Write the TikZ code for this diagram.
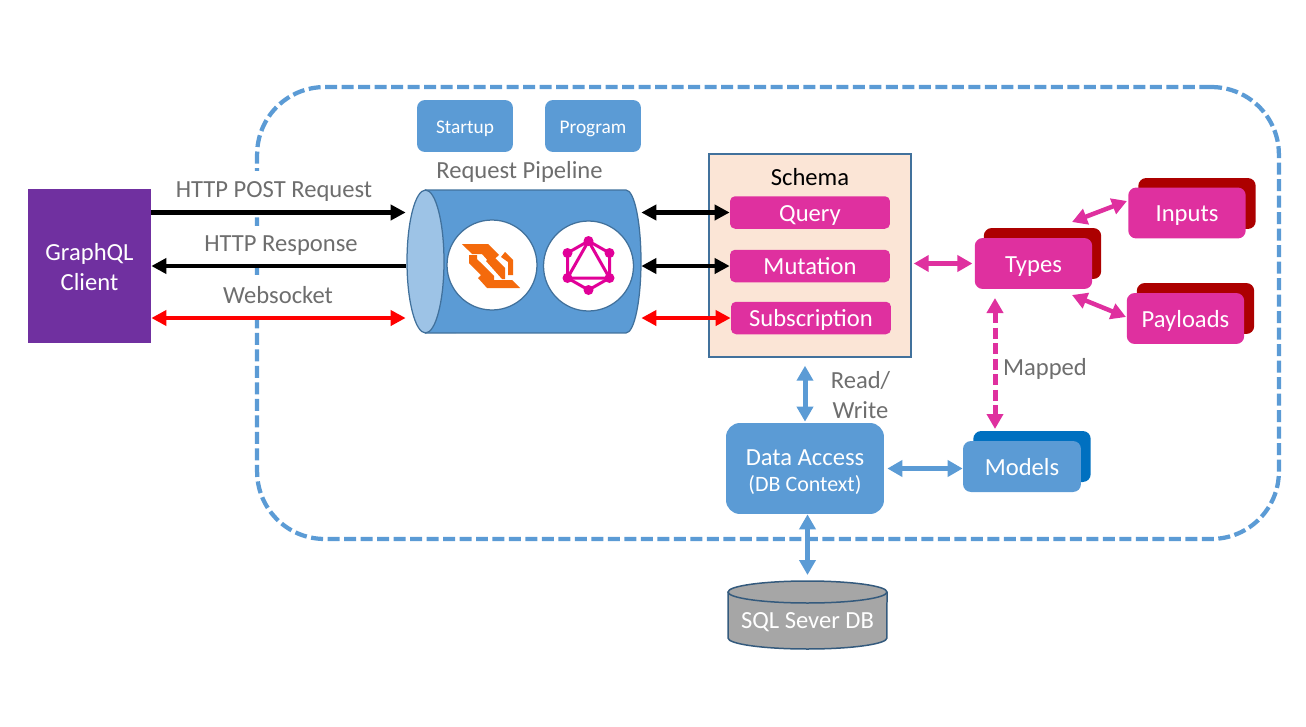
\documentclass[tikz,border=0pt]{standalone}
\usepackage{fontspec}
\setmainfont{Carlito}
\usetikzlibrary{arrows.meta,calc}
\definecolor{msblue}{HTML}{5B9BD5}
\definecolor{msedge}{HTML}{41719C}
\definecolor{deepblue}{HTML}{0070C0}
\definecolor{hotpink}{HTML}{DF309F}
\definecolor{darkred}{HTML}{AC0000}
\definecolor{peach}{HTML}{FBE5D6}
\definecolor{qlpurple}{HTML}{7030A0}
\definecolor{labelgray}{HTML}{6E6E6E}
\definecolor{wsorange}{HTML}{F46A0C}
\definecolor{qlpink}{HTML}{E10098}
\newcommand{\bigtext}{\fontsize{14}{17}\selectfont}
\newcommand{\smalltext}{\fontsize{11}{13}\selectfont}
\tikzset{
	whitetext/.style={text=white, font=\bigtext, align=center, inner sep=0},
	boxtext/.style={whitetext, text height=0.34cm, text depth=0pt},
	graylabel/.style={text=labelgray, font=\bigtext, align=center, inner sep=0},
	pathlabel/.style={graylabel, fill=white, minimum height=0.8cm, minimum width=3cm},
	bluebox/.style={whitetext, fill=msblue, rounded corners=0.16cm},
	topbox/.style={bluebox, font=\smalltext, text height=0.28cm, text depth=0pt, minimum width=1.92cm, minimum height=1.04cm},
	pinkbar/.style={boxtext, fill=hotpink, rounded corners=0.1cm, minimum width=3.2cm, minimum height=0.65cm},
	pinkbox/.style={boxtext, fill=hotpink, rounded corners=0.16cm, minimum width=2.35cm, minimum height=1.02cm},
	redback/.style={fill=darkred, rounded corners=0.16cm, minimum width=2.35cm, minimum height=1.02cm},
	blueback/.style={fill=deepblue, rounded corners=0.16cm, minimum width=2.35cm, minimum height=1.02cm},
	link/.style={line width=0.9mm, >={Triangle[length=0.3cm,width=0.3cm]}},
	blacklink/.style={link, black},
	redlink/.style={link, <->, red},
	bluelink/.style={link, <->, msblue, line width=1mm, >={Triangle[length=0.3cm,width=0.32cm]}},
	pinklink/.style={link, <->, hotpink, line width=0.9mm, >={Triangle[length=0.3cm,width=0.32cm]}},
	logobubble/.style={draw=msedge, fill=white, line width=0.25mm, circle, minimum size=1.8cm, inner sep=0},
}

\begin{document}
\begin{tikzpicture}[x=0.02cm, y=-0.02cm]
			\useasboundingbox (0, 0) rectangle (1306, 727);
			
			% service boundary
			\node[draw=msblue, line width=0.85mm, dash pattern=on 0.24cm off 0.09cm, rounded corners=1.35cm, minimum width=20.44cm, minimum height=9.04cm, inner sep=0] (boundary) at (768, 313) {};
			
			\node[fill=qlpurple, whitetext, minimum width=2.46cm, minimum height=3.08cm] (client) at (89.5, 266) {\rule{0pt}{0.38cm}GraphQL\\Client};
			
			\node[topbox] (startup) at (465, 126) {Startup};
			\node[topbox] (program) at (593, 126) {Program};
			\node[graylabel] (pipelinelabel) at (519.5, 172) {Request Pipeline};
			
			% pipeline drum
			\node[minimum width=4.7cm, minimum height=2.86cm, inner sep=0] (pipeline) at (523.5, 261.5) {};
			\draw[fill=msblue, draw=msedge, line width=0.25mm] (425.5, 190) -- (626, 190) arc[start angle=90, end angle=-90, x radius=0.3cm, y radius=1.43cm] -- (425.5, 333) -- cycle;
			\draw[fill=msblue!60, draw=msedge, line width=0.25mm] (425.5, 261.5) ellipse [x radius=0.37cm, y radius=1.43cm];
			\node[logobubble] (wslogo) at (492, 265) {};
			\node[logobubble] (qllogo) at (588.5, 266) {};
			
			% websocket mark
			\fill[wsorange] (462, 244) -- (488, 244) -- (499, 255) -- (490, 263) -- (482, 254) -- (472, 254) -- cycle;
			\fill[wsorange] (469, 255) -- (477, 255) -- (477, 259) -- (494, 276) -- (494, 280) -- (486, 280) -- (469, 263) -- cycle;
			\fill[wsorange] (486, 261) -- (492, 255) -- (505, 268) -- (505, 279) -- (502, 279) -- cycle;
			\fill[wsorange] (501, 257) -- (505, 252) -- (513, 260) -- (513, 275) -- (508, 275) -- (508, 262) -- cycle;
			\fill[wsorange] (478, 278) -- (482, 274) -- (488, 280) -- (512, 280) -- (520, 288) -- (487, 288) -- cycle;
			
			% graphql mark
			\draw[qlpink, line width=0.6mm] (588.5, 241) -- (609.5, 253) -- (609.5, 278) -- (588.5, 290) -- (567.5, 278) -- (567.5, 253) -- cycle;
			\draw[qlpink, line width=0.6mm] (588.5, 241) -- (609.5, 278) -- (567.5, 278) -- cycle;
			\foreach \dotx/\doty in {588.5/241, 609.5/253, 609.5/278, 588.5/290, 567.5/278, 567.5/253}
				\fill[qlpink] (\dotx, \doty) circle [radius=0.1cm];
			
			\node[draw=msedge, fill=peach, line width=0.3mm, minimum width=4.04cm, minimum height=4.06cm, inner sep=0] (schema) at (810, 255.5) {};
			\node[font=\bigtext, inner sep=0] (schemalabel) at (810, 177) {Schema};
			\node[pinkbar] (query) at (810, 212.5) {Query};
			\node[pinkbar] (mutation) at (810, 266) {Mutation};
			\node[pinkbar] (subscription) at (811, 318) {Subscription};
			
			\node[redback] (typesback) at (1042.5, 253.5) {};
			\node[pinkbox] (types) at (1033.5, 263.5) {Types};
			\node[redback] (inputsback) at (1197, 203.5) {};
			\node[pinkbox] (inputs) at (1187, 213) {Inputs};
			\node[redback] (payloadsback) at (1195.5, 308.5) {};
			\node[pinkbox] (payloads) at (1185.5, 318.5) {Payloads};
			\node[blueback] (modelsback) at (1032, 456.5) {};
			\node[bluebox, boxtext, minimum width=2.36cm, minimum height=1.02cm] (models) at (1022, 466.5) {Models};
			\node[bluebox, rounded corners=0.28cm, minimum width=3.16cm, minimum height=1.82cm] (dataaccess) at (805, 468.5) {\rule{0pt}{0.46cm}Data Access\\[-0.06cm]{\fontsize{12.5}{15}\selectfont (DB Context)}};
			
			% database drum
			\draw[fill=black!35, draw=msedge!80!black, line width=0.3mm] (728, 592) -- (728, 638) arc[start angle=180, end angle=360, x radius=1.59cm, y radius=0.22cm] -- (887, 592);
			\draw[fill=black!35, draw=msedge!80!black, line width=0.3mm] (807.5, 592) ellipse [x radius=1.59cm, y radius=0.22cm];
			\node[boxtext] (sqldb) at (807.5, 620) {SQL Sever DB};
			\coordinate (sqltop) at (807.5, 575);
			
			% left side links
			\node[pathlabel] (postlabel) at (274, 191) {HTTP POST Request};
			\node[pathlabel] (responselabel) at (281, 246) {HTTP Response};
			\node[pathlabel] (socketlabel) at (278, 295) {Websocket};
			\draw[blacklink, ->] (client.east |- query) -- (pipeline.west |- query);
			\draw[blacklink, ->] (pipeline.west |- mutation) -- (client.east |- mutation);
			\draw[redlink] (client.east |- subscription) -- (pipeline.west |- subscription);
			
			% pipeline to schema
			\draw[blacklink, <->] (pipeline.east |- query) -- (query.west);
			\draw[blacklink, <->] (pipeline.east |- mutation) -- (mutation.west);
			\draw[redlink] (pipeline.east |- subscription) -- (subscription.west);
			
			% right side links
			\draw[pinklink, shorten <=0.04cm, shorten >=0.04cm] (schema.east |- types.west) -- (types.west);
			\coordinate (inputsend) at (1127, 201);
			\coordinate (inputsstart) at (1072, 222);
			\coordinate (payloadsend) at (1126, 317);
			\coordinate (payloadsstart) at (1072, 295);
			\draw[pinklink] (inputsstart) -- (inputsend);
			\draw[pinklink] (payloadsstart) -- (payloadsend);
			\coordinate (mappedtop) at (995, 298);
			\coordinate (mappedbottom) at (995, 429);
			\draw[pinklink, line width=1mm, dash pattern=on 0.22cm off 0.09cm] (mappedtop) -- (mappedbottom);
			\node[graylabel] (mappedlabel) at (1045, 369) {Mapped};
			
			% data links
			\draw[bluelink, shorten <=0.16cm, shorten >=0.02cm] (dataaccess.north |- schema.south) -- (dataaccess.north);
			\node[graylabel] (rwlabel) at (860.5, 395) {Read/\\Write};
			\draw[bluelink, shorten <=0.06cm] (dataaccess.east) -- (models.west |- dataaccess.east);
			\draw[bluelink] (sqltop |- dataaccess.south) -- (sqltop);
		\end{tikzpicture}
\end{document}
